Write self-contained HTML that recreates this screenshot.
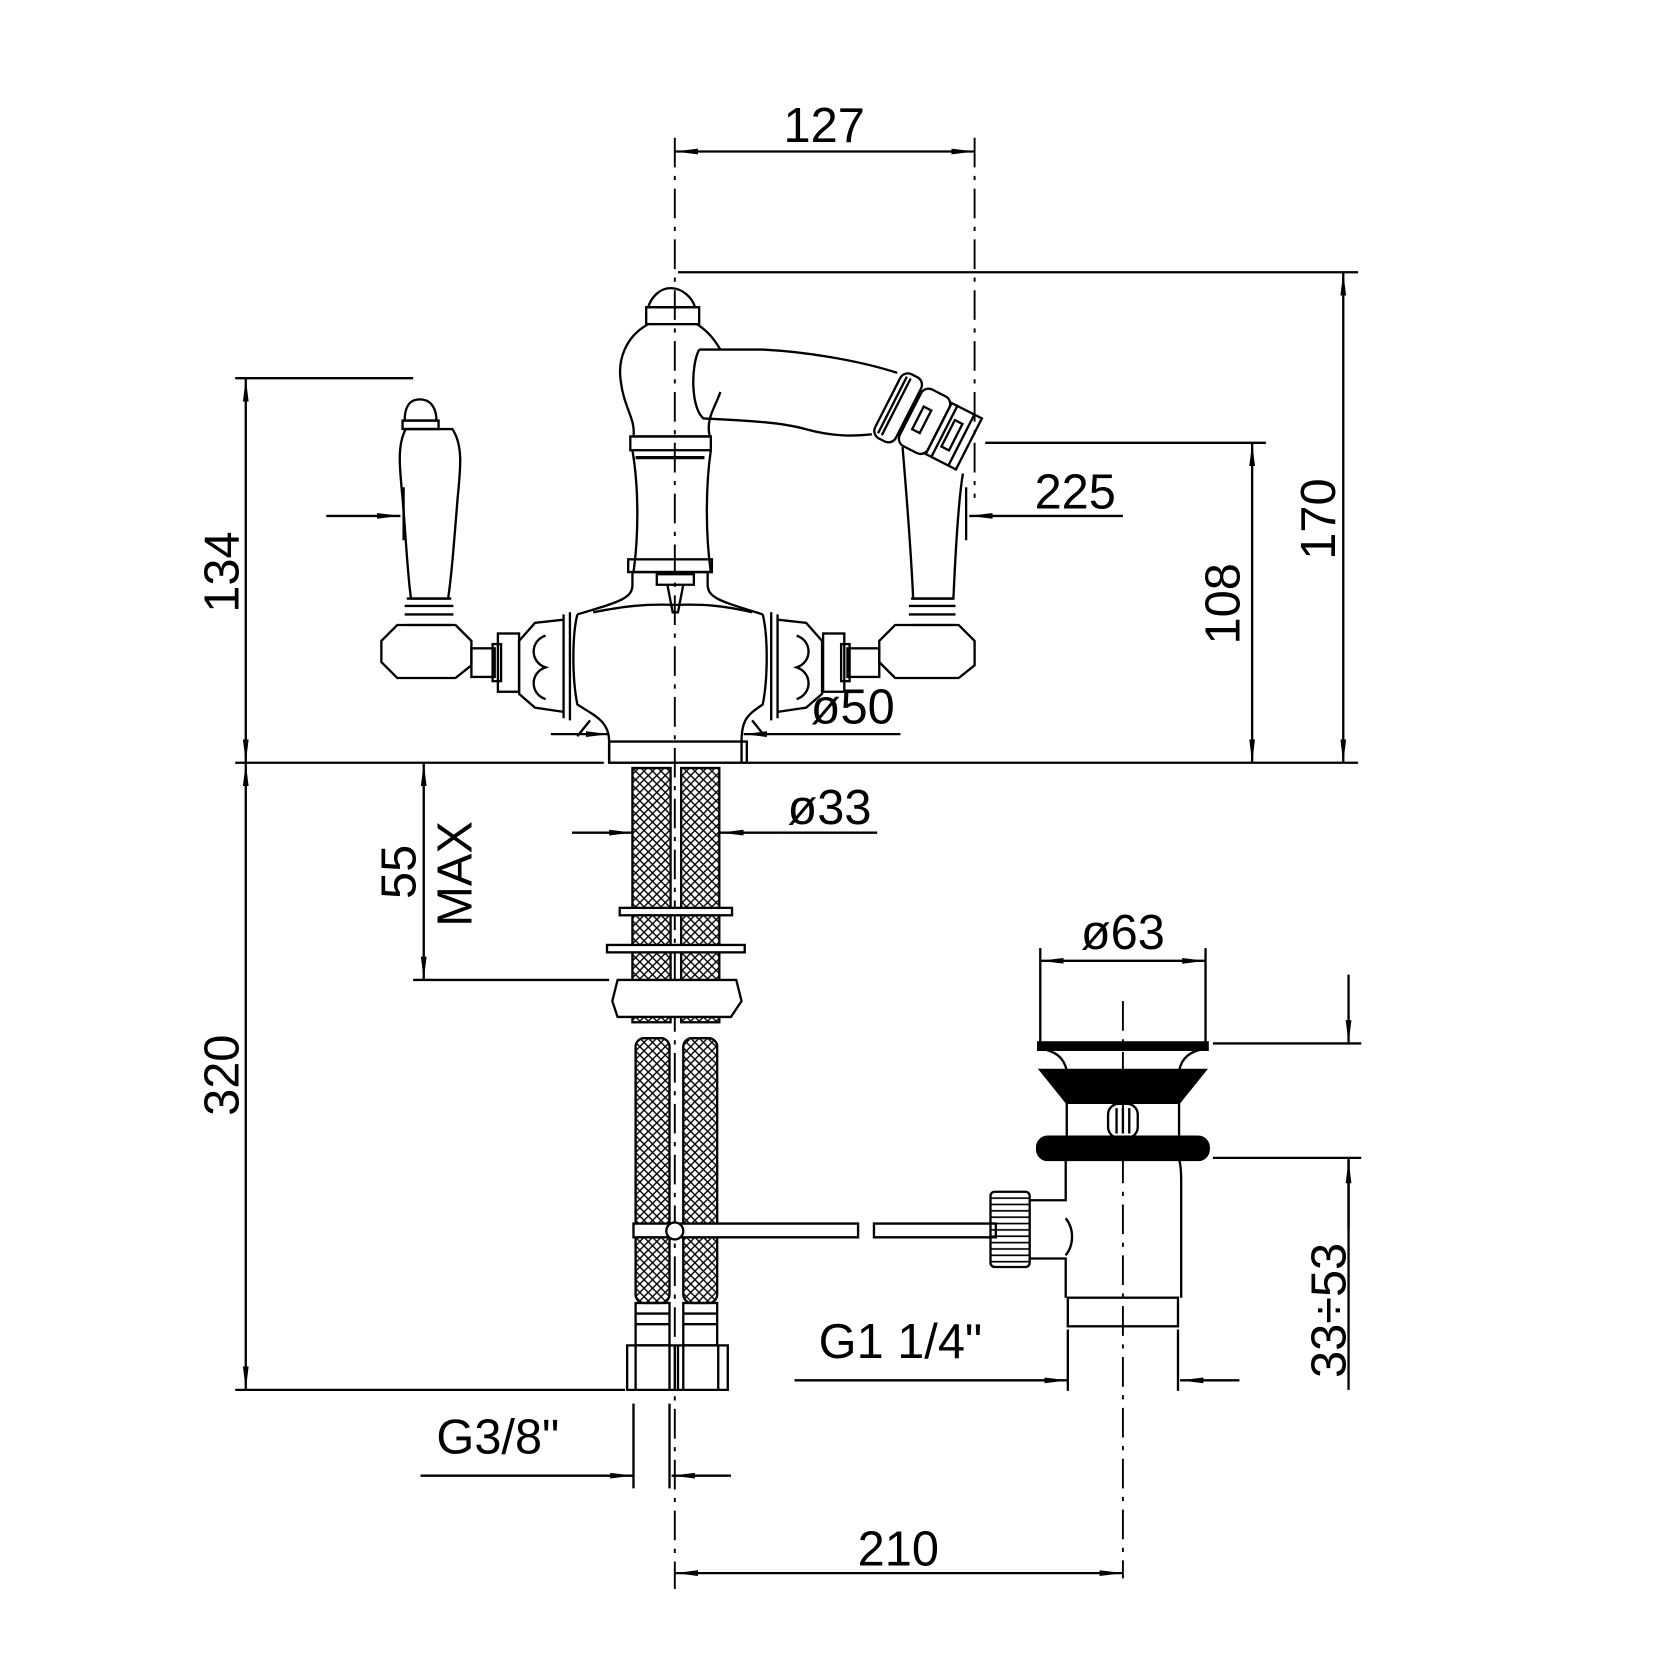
<!DOCTYPE html>
<html><head><meta charset="utf-8"><style>html,body{margin:0;padding:0;background:#fff}svg{display:block}</style></head>
<body>
<svg width="1660" height="1660" viewBox="0 0 1567 1567" xmlns="http://www.w3.org/2000/svg" font-family="'Liberation Sans', 'DejaVu Sans', sans-serif">
<defs>
<pattern id="h" width="8" height="8" patternUnits="userSpaceOnUse">
<path d="M0 0L8 8M8 0L0 8" stroke="#000" stroke-width="1.3"/>
</pattern>
<pattern id="k" width="6" height="6" patternUnits="userSpaceOnUse">
<path d="M0 3H6" stroke="#000" stroke-width="1.6"/>
</pattern>
<marker id="a" viewBox="0 0 10 10" refX="10" refY="5" markerWidth="22" markerHeight="9" markerUnits="userSpaceOnUse" orient="auto-start-reverse" preserveAspectRatio="none"><path d="M0 2L10 5L0 8z" fill="#000"/></marker>
</defs>
<g fill="none" stroke="#000" stroke-width="2.2">
<path d="M637 130V1500M920 130V470M1060 945V1490" stroke-dasharray="28 8 4 8" stroke-width="1.8"/>
<path d="M637 143H920" marker-start="url(#a)" marker-end="url(#a)"/>
<path d="M640 257H1282"/>
<path d="M1268 257V720" marker-start="url(#a)" marker-end="url(#a)"/>
<path d="M930 418H1195"/>
<path d="M1182 418V720" marker-start="url(#a)" marker-end="url(#a)"/>
<path d="M1060 487H915" marker-end="url(#a)"/>
<path d="M912 460V510"/>
<path d="M222 357H390"/>
<path d="M232 357V720" marker-start="url(#a)" marker-end="url(#a)"/>
<path d="M308 487H378" marker-end="url(#a)"/><path d="M381 460V510"/>
<path d="M222 720H570M705 720H1282"/>
<path d="M520 693H575" marker-end="url(#a)"/><path d="M760 693H702" marker-end="url(#a)"/><path d="M760 693H850"/>
<path d="M232 720V1312" marker-start="url(#a)" marker-end="url(#a)"/>
<path d="M222 1312H590"/>
<path d="M400 720V925" marker-start="url(#a)" marker-end="url(#a)"/>
<path d="M390 925H575"/>
<path d="M540 786H597" marker-end="url(#a)"/><path d="M740 786H680" marker-end="url(#a)"/><path d="M740 786H828"/>
<path d="M598 1325V1405M632 1325V1405"/>
<path d="M397 1393H598" marker-end="url(#a)"/><path d="M690 1393H634" marker-end="url(#a)"/>
<path d="M637 1485H1060" marker-start="url(#a)" marker-end="url(#a)"/>
<path d="M982 895V985M1138 895V985"/>
<path d="M982 907H1138" marker-start="url(#a)" marker-end="url(#a)"/>
<path d="M1008 1255V1313M1112 1255V1313"/>
<path d="M750 1303H1008" marker-end="url(#a)"/><path d="M1170 1303H1114" marker-end="url(#a)"/>
<path d="M1145 985H1285M1145 1093H1285"/>
<path d="M1273 920V985" marker-end="url(#a)"/><path d="M1273 1093V1312"/><path d="M1273 1160V1095" marker-end="url(#a)"/>

<path d="M633 272C622 272 614 282 612 290H656C654 282 645 272 633 272Z"/>
<rect x="610" y="290" width="50" height="16"/>
<path d="M612 306C590 318 583 340 586 360C589 385 600 395 598 412H670C666 395 675 385 680 370"/>
<path d="M680 330C672 316 664 310 658 306"/>
<rect x="595" y="412" width="76" height="13"/>
<path d="M597 425C603 460 603 505 598 540H671C666 505 666 460 671 425"/>
<path d="M600 432H665" stroke-width="3"/>
<rect x="593" y="528" width="79" height="12"/>
<path d="M597 540V552C597 565 585 568 545 580M668 540V552C668 565 682 568 720 580"/>
<path d="M560 578C590 572 610 570 637 571C665 570 685 572 710 578"/>
<path d="M620 542H655V552H620Z"/><path d="M630 552L635 578H640L645 552"/>
<path d="M660 330C652 345 652 385 664 395C700 397 735 398 760 405S805 412 823 410"/>
<path d="M660 330H720C760 332 810 340 847 352"/>
<g transform="translate(838,380) rotate(27)">
<rect x="0" y="-34" width="22" height="68" rx="8"/>
<path d="M5 -30V30M9 -30V30"/>
<rect x="24" y="-30" width="30" height="60" rx="8"/>
<rect x="32" y="-12" width="8" height="24"/>
<rect x="54" y="-27" width="32" height="54"/>
<path d="M60 -27V27M78 -27V27"/>
<rect x="64" y="-14" width="8" height="28"/>
</g>
<path d="M545 580C540 600 540 640 545 665C560 675 575 680 575 700V720M720 580C725 600 725 640 720 665C705 675 700 680 700 700V720"/>
<path d="M538 578V680M728 578V680M532 580V678M734 580V678"/>
<path d="M557 680L545 695M710 680L722 695"/>
<path d="M532 585L505 588L490 605V655L505 668L532 672"/>
<path d="M515 600C500 605 500 625 515 630C500 635 500 655 515 660"/>
<rect x="470" y="598" width="20" height="55"/><rect x="465" y="608" width="8" height="35"/>
<rect x="445" y="612" width="22" height="27"/>
<path d="M375 590H430L445 605V628L430 640H375L360 625V605Z"/>
<path d="M396 377C385 377 382 387 382 397H412C412 387 408 377 396 377Z"/>
<rect x="380" y="397" width="34" height="8"/>
<path d="M383 405C375 420 377 440 380 470C384 520 385 545 388 565H423C426 545 428 520 432 470C435 440 437 420 427 405Z"/>
<path d="M384 565H426M382 572H428M382 580H428M384 590H426"/>
<path d="M734 585L761 588L776 605V655L761 668L734 672"/>
<path d="M752 600C767 605 767 625 752 630C767 635 767 655 752 660"/>
<rect x="777" y="598" width="20" height="55"/><rect x="794" y="608" width="8" height="35"/>
<rect x="800" y="612" width="30" height="27"/>
<path d="M845 590H905L920 605V628L905 640H845L830 625V605Z"/>
<path d="M852 422C856 470 860 520 862 565H900C902 520 905 470 909 447"/>
<path d="M860 565H900M858 572H902M858 580H902M860 590H900"/>

<rect x="575" y="700" width="130" height="20"/>
<rect x="597" y="725" width="36" height="240" fill="url(#h)"/>
<rect x="643" y="725" width="36" height="240" fill="url(#h)"/>
<rect x="600" y="980" width="32" height="250" rx="8" fill="url(#h)"/>
<rect x="645" y="980" width="32" height="250" rx="8" fill="url(#h)"/>
<rect x="585" y="857" width="106" height="7" fill="#fff"/>
<rect x="573" y="892" width="130" height="7" fill="#fff"/>
<path d="M583 925H695L700 945L690 960H583L578 945Z" fill="#fff"/>
<rect x="600" y="1230" width="32" height="40"/><rect x="645" y="1230" width="32" height="40"/>
<path d="M600 1240H632M600 1250H632M645 1240H677M645 1250H677"/>
<path d="M592 1270H640V1312H592Z M637 1270H687V1312H637Z"/>
<path d="M600 1270V1312M632 1270V1312M645 1270V1312M678 1270V1312"/>
<path d="M598 1155H810V1168H598ZM825 1155H940V1168H825Z" fill="#fff"/>
<circle cx="637" cy="1162" r="8" fill="#fff"/>
<rect x="935" y="1125" width="37" height="71" rx="4" fill="url(#k)"/>
<path d="M972 1133H1006V1095M972 1188H1006V1225"/>
<path d="M1006 1150C1014 1160 1014 1175 1006 1185"/>
<rect x="980" y="984" width="160" height="7" fill="#000"/>
<path d="M982 990C998 992 1005 1000 1007 1011M1138 990C1122 992 1115 1000 1113 1011"/>
<path d="M982 1010H1138L1113 1041H1007Z" fill="#000"/>
<path d="M1007 1041V1073M1113 1041V1073"/>
<rect x="1046" y="1042" width="28" height="32" rx="10"/>
<path d="M1060 1046V1070M1054 1046V1070M1066 1046V1070"/>
<rect x="979" y="1073" width="162" height="22" rx="10" fill="#000"/>
<path d="M1113 1095C1115 1100 1115 1110 1115 1115V1225"/>
<rect x="1008" y="1225" width="104" height="27"/>
</g>
<g font-size="46" fill="#000" text-anchor="middle">
<text x="778" y="134">127</text>
<text x="1015" y="480">225</text>
<text x="805" y="683">ø50</text>
<text x="783" y="778">ø33</text>
<text x="1060" y="896">ø63</text>
<text x="470" y="1372">G3/8"</text>
<text x="850" y="1282">G1  1/4"</text>
<text x="848" y="1478">210</text>
<text transform="translate(1260,490) rotate(-90)">170</text>
<text transform="translate(1170,570) rotate(-90)">108</text>
<text transform="translate(225,540) rotate(-90)">134</text>
<text transform="translate(225,1015) rotate(-90)">320</text>
<text transform="translate(392,823) rotate(-90)">55</text>
<text transform="translate(445,825) rotate(-90)">MAX</text>
<text transform="translate(1270,1237) rotate(-90)">33÷53</text>
</g>
</svg>
</body></html>
